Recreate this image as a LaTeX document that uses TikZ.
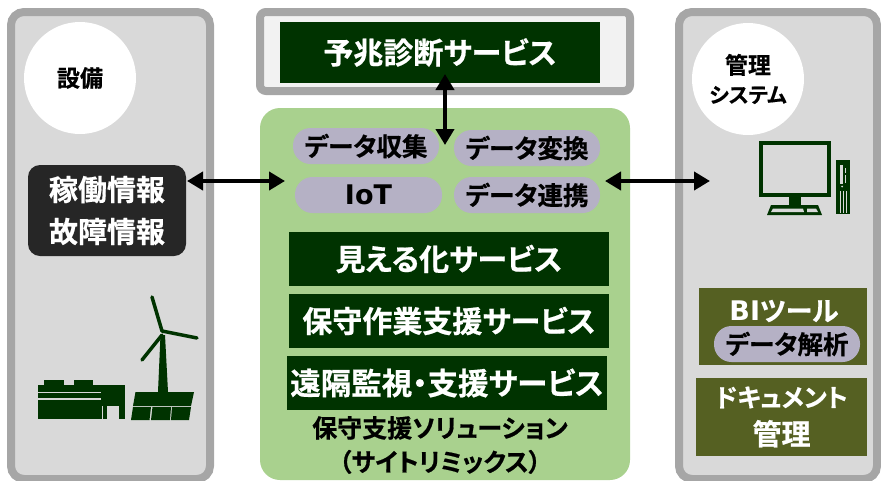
\documentclass[tikz,border=0pt]{standalone}
\usepackage{fontspec}
\setmainfont{Noto Sans CJK JP}[BoldFont={Noto Sans CJK JP Bold},BoldFeatures={FakeBold=0.6},RawFeature={+palt}]
\newfontfamily\latinb{DejaVu Sans Bold}
\definecolor{dkgreen}{HTML}{003300}
\definecolor{panelbd}{HTML}{A6A6A6}
\definecolor{panelbg}{HTML}{D9D9D9}
\definecolor{midgreen}{HTML}{A9D18E}
\definecolor{pillc}{HTML}{B5B1C5}
\definecolor{olive}{HTML}{556022}
\usetikzlibrary{arrows.meta}
\tikzset{
 px/.style={x=1pt,y=-1pt},
 panel/.style={draw=panelbd,line width=8pt,fill=panelbg,rounded corners=13pt},
 bar/.style={fill=dkgreen,text=white,font=\bfseries\fontsize{30}{32}\selectfont,inner sep=0pt},
 pill/.style={fill=pillc,rounded corners=17.5pt,text=black,font=\bfseries\fontsize{25.5}{28}\selectfont,inner sep=0pt},
 dbl/.style={line width=4.5pt,{Triangle[length=16pt,width=18pt]}-{Triangle[length=16pt,width=18pt]},black},
 oliv/.style={fill=olive,text=white,inner sep=0pt,align=center,font=\bfseries\fontsize{29}{38}\selectfont},
 ic/.style={fill=dkgreen,draw=none},
}
\begin{document}
\begin{tikzpicture}[px]
\useasboundingbox (0,0) rectangle (881,480);
\begin{scope}
\clip (0,0) rectangle (881,480);
\draw[panel] (11,12) rectangle (210,479);
\draw[panel] (679,12) rectangle (877,479);
\draw[panel,fill=white!95!black,rounded corners=6pt] (260,12) rectangle (630,91);
\fill[midgreen,rounded corners=20pt] (260,108) rectangle (630,480);
\end{scope}
% circles
\node[circle,fill=white,minimum size=112pt,inner sep=0pt,font=\bfseries\fontsize{23}{25}\selectfont] (c1) at (80,78) {設備};
\node[circle,fill=white,minimum size=112pt,inner sep=0pt,align=center,font=\bfseries\fontsize{23}{29}\selectfont] (c2) at (748,79) {管理\\{\fontsize{21}{29}\selectfont システム}};
% top
\node[bar,minimum width=320pt,minimum height=61pt] (yochou) at (440,52.5) {予兆診断サービス};
% pills
\node[pill,minimum width=146pt,minimum height=36pt] (p1) at (366,146) {データ収集};
\node[pill,minimum width=146pt,minimum height=36pt] (p2) at (527,148) {データ変換};
\node[pill,minimum width=147pt,minimum height=36pt,font=\latinb\fontsize{27}{28}\selectfont] (p3) at (368.5,195) {IoT};
\node[pill,minimum width=146pt,minimum height=36pt] (p4) at (527,195) {データ連携};
% bars
\node[bar,minimum width=320pt,minimum height=54pt] (b1) at (449,259) {見える化サービス};
\node[bar,minimum width=320pt,minimum height=54pt] (b2) at (449,321) {保守作業支援サービス};
\node[bar,minimum width=320pt,minimum height=54pt,font=\bfseries\fontsize{30.5}{32}\selectfont] (b3) at (447,383) {遠隔監視・支援サービス};
\node[font=\bfseries\fontsize{25}{34}\selectfont,align=center,inner sep=0pt] (lbl) at (440,445) {保守支援ソリューション\\（サイトリミックス）};
% left box
\node[fill=black!85,rounded corners=12pt,text=white,minimum width=158pt,minimum height=91pt,inner sep=0pt,align=center,font=\bfseries\fontsize{29}{42}\selectfont] (kado) at (107,210.5) {稼働情報\\故障情報};
% right boxes
\node[oliv,minimum width=168pt,minimum height=77pt,anchor=north] (bi) at (783,288) {};
\node[font=\bfseries\fontsize{27}{30}\selectfont,text=white,inner sep=0pt] (bit) at (784,311) {{\latinb BI}ツール};
\node[pill,minimum width=146pt,minimum height=36pt] (p5) at (787,344) {データ解析};
\node[oliv,minimum width=171pt,minimum height=78pt] (doc) at (781.5,417) {{\fontsize{25}{38}\selectfont ドキュメント}\\管理};
% connectors
\coordinate (a1) at (187,181);
\coordinate (a2) at (285,181);
\coordinate (a3) at (605,181);
\coordinate (a4) at (710,181);
\coordinate (a5) at (445,74);
\coordinate (a6) at (445,145);
\draw[dbl] (a1) -- (a2);
\draw[dbl] (a3) -- (a4);
\draw[dbl] (a5) -- (a6);
% turbine
\fill[ic] (158,392) -- (160.5,335) -- (165,335) -- (168,392) -- cycle;
\draw[dkgreen,line width=3.5pt,line cap=round] (162,331) -- (152,297);
\draw[dkgreen,line width=3.5pt,line cap=round] (162,331) -- (197,338);
\draw[dkgreen,line width=3.5pt,line cap=round] (162,335) -- (142,360);
% solar
\fill[ic] (135.5,392) -- (194,392) -- (191,406) -- (133,406) -- cycle;
\fill[ic] (133,407) -- (151,407) -- (149.5,420) -- (131,420) -- cycle;
\fill[ic] (152.5,407) -- (171,407) -- (170,420) -- (151,420) -- cycle;
\fill[ic] (172,407) -- (191,407) -- (189,420) -- (171,420) -- cycle;
% factory
\fill[ic] (38,385) rectangle (125,419);
\fill[ic] (44,380) rectangle (64,386);
\fill[ic] (73.5,380) rectangle (93,386);
\fill[panelbg] (38,391.5) rectangle (101,393);
\fill[panelbg] (38,397.5) rectangle (101,399.5);
\fill[panelbg] (107,406) rectangle (118.5,420);
\fill[panelbg] (101.5,406) rectangle (102.5,419.5);
% monitor
\draw[dkgreen,line width=4pt] (760.5,143) rectangle (829,195);
\fill[ic] (789,197) rectangle (801,206);
\fill[ic] (771,205) -- (818,205) -- (822,215) -- (767,215) -- cycle;
\fill[panelbg] (773,208.5) -- (803,208.5) -- (804,212) -- (771,212) -- cycle;
\fill[panelbg] (807,208.5) -- (816,208.5) -- (818,212) -- (807,212) -- cycle;
% tower
\fill[ic] (835.5,160) rectangle (850,214);
\fill[panelbg] (839.5,165) rectangle (842.5,184);
\fill[panelbg] (845,168) rectangle (846,173);
\fill[panelbg] (845,175) rectangle (846,183);
\fill[panelbg] (842,186.5) circle (1pt);
\fill[panelbg] (839.5,191) rectangle (840.5,213);
\fill[panelbg] (842.5,191) rectangle (843.5,213);
\fill[panelbg] (845.5,191) rectangle (846.5,213);
\end{tikzpicture}
\end{document}
